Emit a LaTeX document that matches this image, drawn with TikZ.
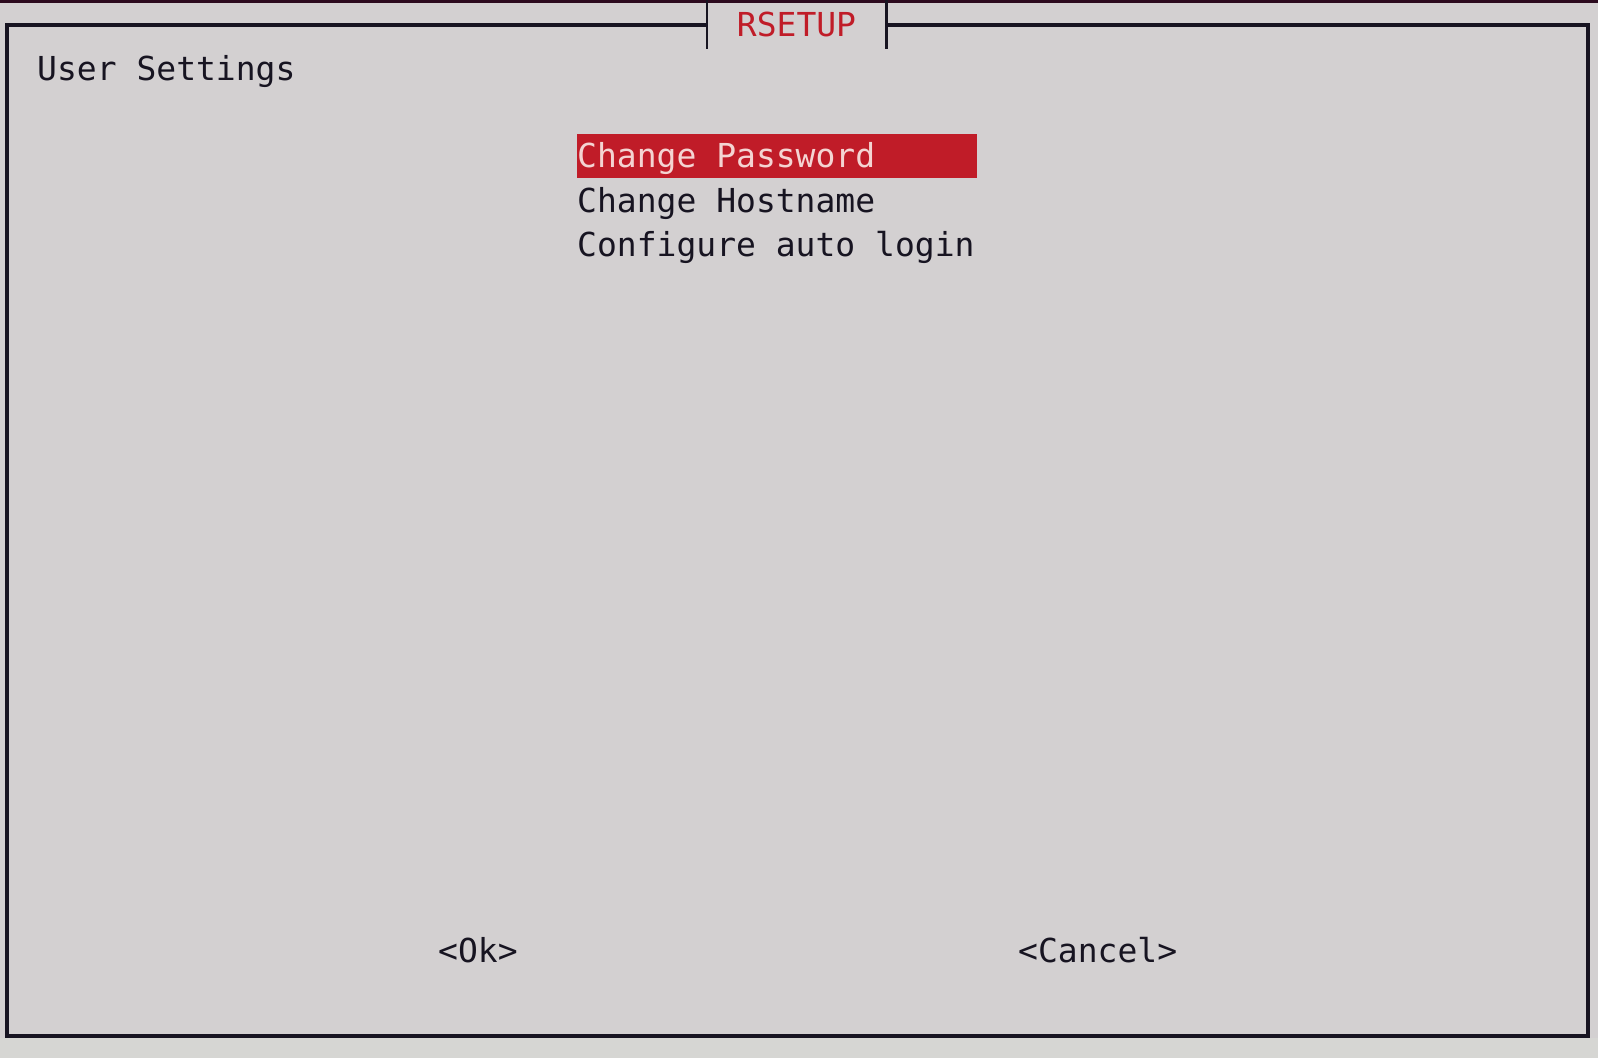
\documentclass[tikz,border=0pt]{standalone}
\usepackage{fontspec}
\setmonofont{DejaVu Sans Mono}
\definecolor{termbg}{HTML}{D3D0D1}
\definecolor{termlow}{HTML}{D6D6D3}
\definecolor{termtop}{HTML}{2C0A1E}
\definecolor{termfg}{HTML}{171421}
\definecolor{termred}{HTML}{C01C28}
\definecolor{termhi}{HTML}{F4D4D2}
\tikzset{
  menutext/.style={anchor=base west,inner sep=0pt,font=\ttfamily\fontsize{33}{40}\selectfont,text=termfg},
  frameline/.style={draw=termfg,line width=4pt,line join=miter}
}
\begin{document}
\begin{tikzpicture}[x=1pt,y=-1pt]
        \useasboundingbox (0,0) rectangle (1598,1058);
        %% Screen
        \fill[termbg] (0,0) rectangle (1598,1058);
        \fill[termlow] (0,1038) rectangle (1598,1058);
        \fill[termtop] (0,0) rectangle (1598,3);
        %% Title
        \node[rectangle,minimum width=179pt,minimum height=49pt,inner sep=0pt,anchor=center,font=\ttfamily\fontsize{33}{40}\selectfont,text=termred] (T) at (796.5,24.5) {RSETUP};
        \draw[termfg,line width=2.6pt] (T.north west) -- (T.south west);
        \draw[termfg,line width=2.6pt] (T.north east) -- (T.south east);
        %% Frame
        \draw[frameline] (T.west |- 0,25) -- (7,25) -- (7,1036) -- (1587.5,1036) -- (1587.5,25) -- (T.east |- 0,25);
        %% Menu
        \node[menutext] (H) at (37,80) {User Settings};
        \node[rectangle,fill=termred,minimum width=400pt,minimum height=44pt,inner sep=0pt,anchor=north west] (S) at (577,134) {};
        \node[menutext,text=termhi] (P) at (577,167) {Change Password};
        \node[menutext] (N) at (577,212) {Change Hostname};
        \node[menutext] (L) at (577,256) {Configure auto login};
        %% Buttons
        \node[menutext] (OK) at (438,962) {<Ok>};
        \node[menutext] (C) at (1018,962) {<Cancel>};
    \end{tikzpicture}
\end{document}
